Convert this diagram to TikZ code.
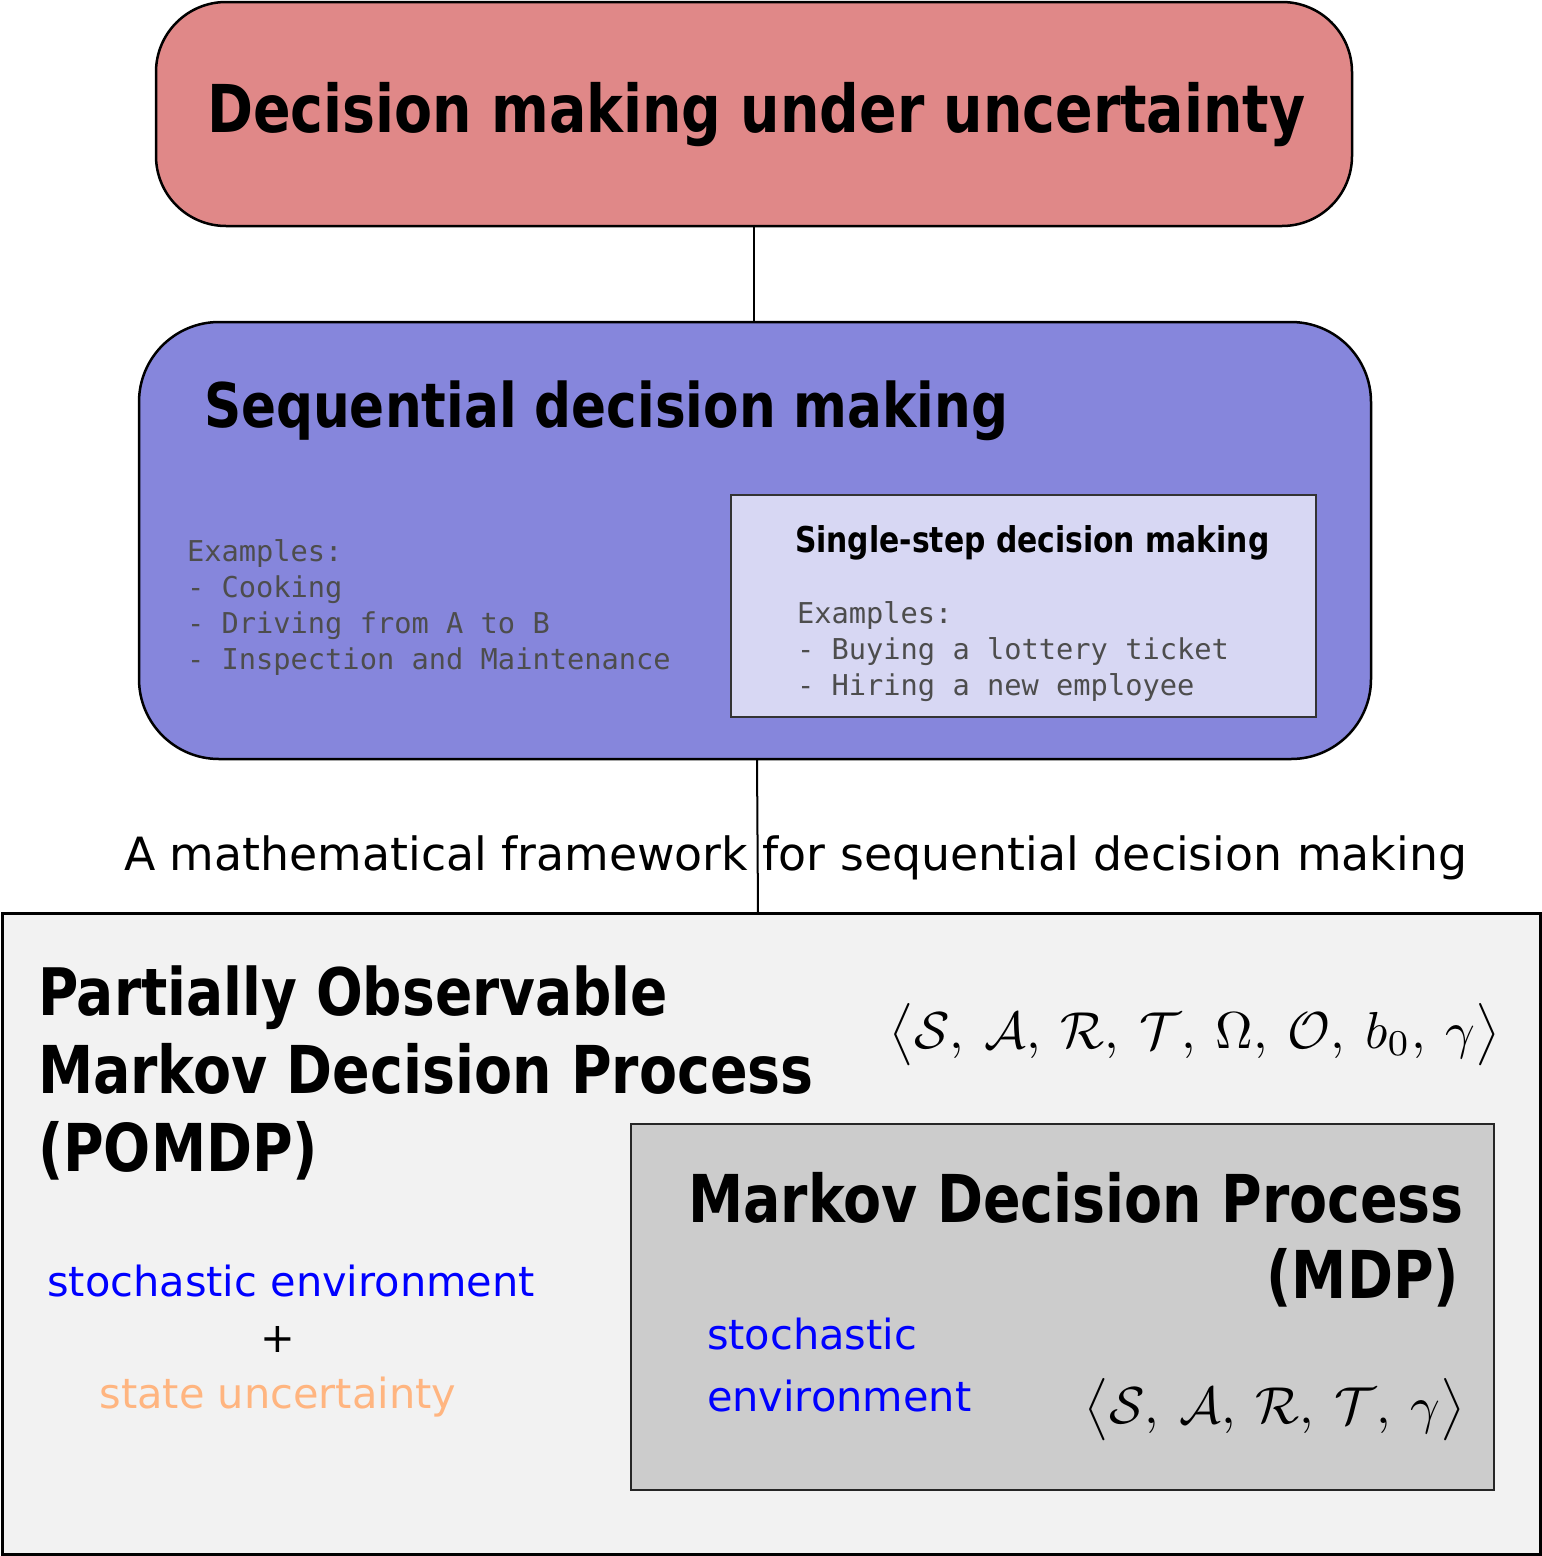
\documentclass[tikz,border=0pt]{standalone}
\usepackage{fontspec}
\usepackage{amsmath}
\setmainfont{DejaVu Sans}
\setmonofont{DejaVu Sans Mono}
\newfontfamily\bfnt[FakeStretch=0.84]{DejaVu Sans Bold}
\definecolor{topfill}{HTML}{E08888}
\definecolor{midfill}{HTML}{8686DC}
\definecolor{innerfill}{HTML}{D7D7F3}
\definecolor{botfill}{HTML}{F2F2F2}
\definecolor{mdpfill}{HTML}{CCCCCC}
\definecolor{exgray}{HTML}{4D4D4D}
\definecolor{stochblue}{HTML}{0000FF}
\definecolor{stateorange}{HTML}{FFB580}
\newcommand{\cm}{,\mkern4mu}
\tikzset{
  boxbase/.style={draw=black, line width=2.5pt, inner sep=0pt, outer sep=0pt},
  txt/.style={inner sep=0pt, outer sep=0pt, anchor=base west},
  bigtitle/.style={txt, font=\bfnt\fontsize{66}{78}\selectfont},
  extxt/.style={txt, text=exgray, font=\ttfamily\fontsize{28.7}{36}\selectfont},
  regtxt/.style={txt, font=\fontsize{41.5}{48}\selectfont},
  link/.style={draw=black, line width=2pt},
}
\begin{document}
\begin{tikzpicture}[x=1pt,y=-1pt]
\useasboundingbox (0,0) rectangle (1542,1556);
% boxes
\node[boxbase, fill=topfill, rounded corners=70pt, minimum width=1196pt, minimum height=224pt] (top) at (754,114) {};
\node[boxbase, fill=midfill, rounded corners=80pt, minimum width=1232pt, minimum height=437pt] (mid) at (755,540.5) {};
\node[boxbase, fill=innerfill, draw=black!80, line width=1.5pt, minimum width=585pt, minimum height=222pt] (single) at (1023.5,606) {};
\node[boxbase, fill=botfill, line width=3pt, minimum width=1538pt, minimum height=641pt] (pomdp) at (771,1233.5) {};
\node[boxbase, fill=mdpfill, draw=black!85, line width=1.8pt, minimum width=863pt, minimum height=366pt] (mdp) at (1062.5,1307) {};
% texts
\node[txt, font=\bfnt\fontsize{66}{78}\selectfont] (toptitle) at (207,132) {Decision making under uncertainty};
\node[txt, font=\bfnt\fontsize{61.5}{74}\selectfont] (midtitle) at (204,427) {Sequential decision making};
\node[extxt] (exA0) at (187,561) {Examples:};
\node[extxt] (exA1) at (187,597) {- Cooking};
\node[extxt] (exA2) at (187,633) {- Driving from A to B};
\node[extxt] (exA3) at (187,669) {- Inspection and Maintenance};
\node[txt, font=\bfnt\fontsize{35.5}{44}\selectfont] (singletitle) at (795,552) {Single-step decision making};
\node[extxt] (exB0) at (797,623) {Examples:};
\node[extxt] (exB1) at (797,659) {- Buying a lottery ticket};
\node[extxt] (exB2) at (797,695) {- Hiring a new employee};
\node[txt, font=\fontsize{45.8}{54}\selectfont] (framework) at (124,870) {A mathematical framework for sequential decision making};
\node[txt, font=\bfnt\fontsize{65.5}{78}\selectfont] (pomdpA) at (38,1015) {Partially Observable};
\node[bigtitle] (pomdpB) at (38,1093) {Markov Decision Process};
\node[bigtitle] (pomdpC) at (38,1171) {(POMDP)};
\node[inner sep=0pt, anchor=base] (pomdptuple) at (1195,1048) {\scalebox{5.2}{$\bigl\langle\mathcal{S}\cm\mathcal{A}\cm\mathcal{R}\cm\mathcal{T}\cm\Omega\cm\mathcal{O}\cm b_0\cm\gamma\bigr\rangle$}};
\node[regtxt, anchor=base, text=stochblue] (stochL) at (291,1296) {stochastic environment};
\node[regtxt, anchor=base] (plusL) at (278,1352) {+};
\node[regtxt, anchor=base, text=stateorange] (stateL) at (278,1408) {state uncertainty};
\node[bigtitle, anchor=base east] (mdpA) at (1464,1222) {Markov Decision Process};
\node[bigtitle, anchor=base east] (mdpB) at (1459,1298) {(MDP)};
\node[regtxt, text=stochblue] (stochR1) at (707,1349) {stochastic};
\node[regtxt, text=stochblue] (stochR2) at (707,1411) {environment};
\node[inner sep=0pt, anchor=base] (mdptuple) at (1275,1423) {\scalebox{5.2}{$\bigl\langle\mathcal{S}\cm\mathcal{A}\cm\mathcal{R}\cm\mathcal{T}\cm\gamma\bigr\rangle$}};
% connectors
\draw[link] (top.south) -- (top.south |- mid.north);
\draw[link] ([xshift=2pt]mid.south) -- ([xshift=3pt]mid.south |- pomdp.north);
\end{tikzpicture}
\end{document}
